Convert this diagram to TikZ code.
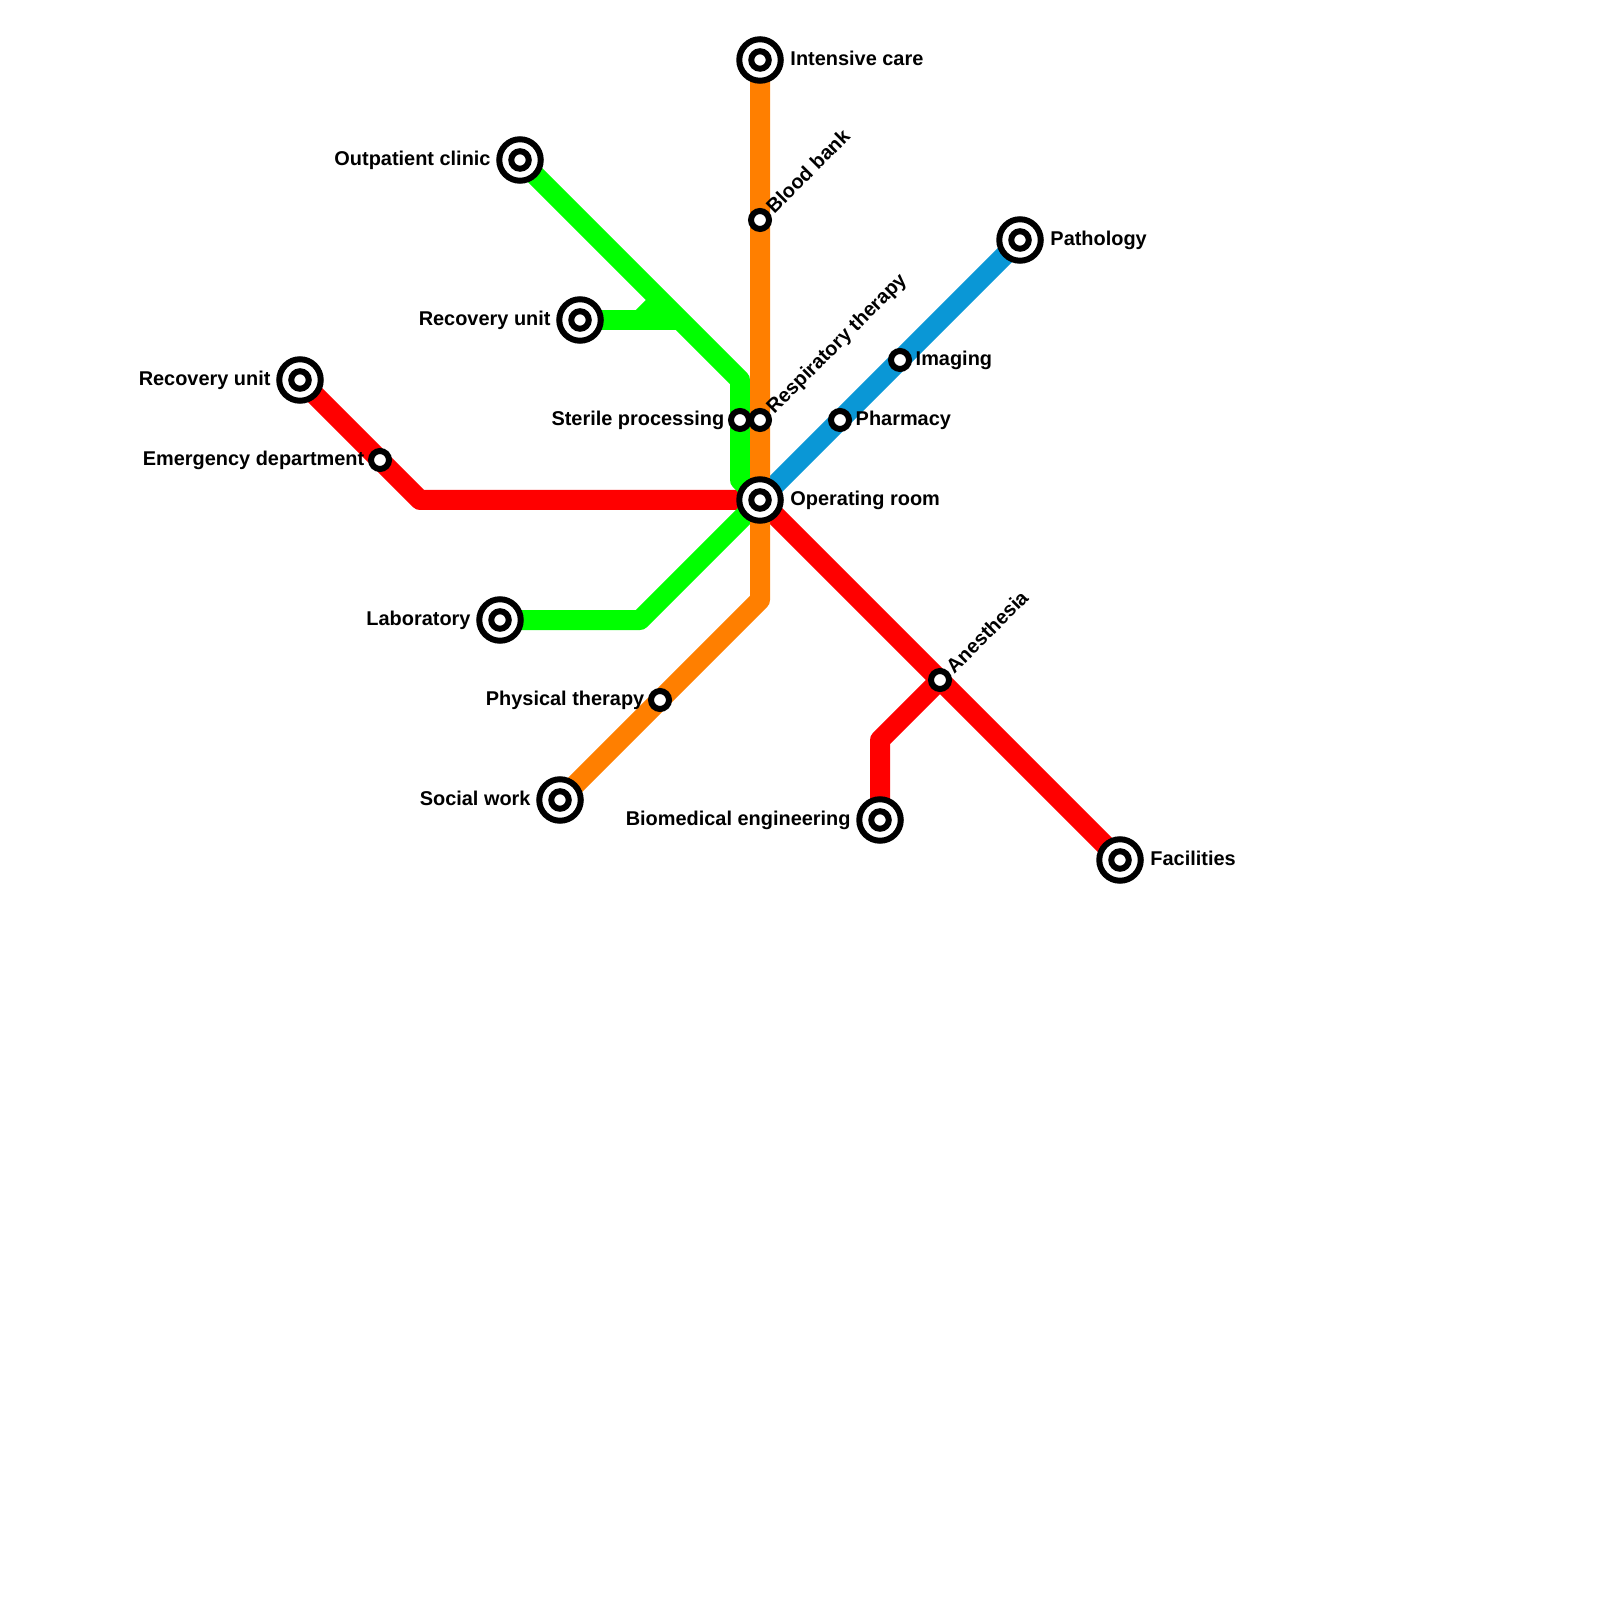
\documentclass[tikz,border=0pt]{standalone}
\usepackage{fontspec}
\setmainfont{Liberation Sans}
\usetikzlibrary{positioning,backgrounds}
\definecolor{linered}{RGB}{255,0,0}
\definecolor{linegreen}{RGB}{0,255,0}
\definecolor{lineorange}{RGB}{255,127,0}
\definecolor{lineblue}{RGB}{10,151,214}

\begin{document}
\begin{tikzpicture}[x=1cm,y=-1cm,font=\fontsize{5.67}{6.8}\selectfont\bfseries]
    \tikzset{
        terminal/.style={
            circle,draw,line width=0.06cm,fill=white,inner sep=0pt,outer sep=0pt,
            minimum size=0.415cm,
            path picture={\draw[line width=0.06cm] (path picture bounding box.center) circle (0.0875);}
        },
        halt/.style={
            circle,draw,line width=0.06cm,fill=white,inner sep=0pt,outer sep=0pt,
            minimum size=0.18cm
        },
        tag/.style={inner sep=0pt,text height=0.15cm,text depth=0.04cm},
        slanted/.style={tag,rotate=45,anchor=west},
        track/.style={line width=0.2cm,line join=round}
    }
    \useasboundingbox (0,0) rectangle (16,16);

    \node[terminal] (operating) at (7.6,5.0) {};
    \node[terminal] (intensive) at (7.6,0.6) {};
    \node[halt] (bloodbank) at (7.6,2.2) {};
    \node[halt] (respiratory) at (7.6,4.2) {};
    \node[halt] (sterile) at (7.4,4.2) {};
    \node[halt] (pharmacy) at (8.4,4.2) {};
    \node[halt] (imaging) at (9.0,3.6) {};
    \node[terminal] (pathology) at (10.2,2.4) {};
    \node[terminal] (outpatient) at (5.2,1.6) {};
    \node[terminal] (recoverygreen) at (5.8,3.2) {};
    \node[terminal] (recoveryred) at (3.0,3.8) {};
    \node[halt] (emergency) at (3.8,4.6) {};
    \node[terminal] (laboratory) at (5.0,6.2) {};
    \node[halt] (physical) at (6.6,7.0) {};
    \node[terminal] (socialwork) at (5.6,8.0) {};
    \node[halt] (anesthesia) at (9.4,6.8) {};
    \node[terminal] (biomedical) at (8.8,8.2) {};
    \node[terminal] (facilities) at (11.2,8.6) {};

    \coordinate (redbend) at (4.2,5.0);
    \coordinate (biobend) at (8.8,7.4);
    \coordinate (greentop) at (7.4,3.8);
    \coordinate (greenlow) at (7.4,4.8);
    \coordinate (labbend) at (6.4,6.2);
    \coordinate (orangebend) at (7.6,6.0);
    \coordinate (branchfoot) at (6.4,3.2);
    \coordinate (branchjoin) at (6.6,3.0);
    \coordinate (branchend) at (6.8,3.2);

    \node[tag,right=0.09cm of operating] (operatinglabel) {Operating room};
    \node[tag,right=0.09cm of intensive] (intensivelabel) {Intensive care};
    \node[tag,right=0.09cm of pathology] (pathologylabel) {Pathology};
    \node[tag,right=0.09cm of facilities] (facilitieslabel) {Facilities};
    \node[tag,right=0.06cm of imaging] (imaginglabel) {Imaging};
    \node[tag,right=0.06cm of pharmacy] (pharmacylabel) {Pharmacy};
    \node[tag,left=0.08cm of outpatient] (outpatientlabel) {Outpatient clinic};
    \node[tag,left=0.08cm of recoverygreen] (recoverygreenlabel) {Recovery unit};
    \node[tag,left=0.08cm of recoveryred] (recoveryredlabel) {Recovery unit};
    \node[tag,left=0.08cm of laboratory] (laboratorylabel) {Laboratory};
    \node[tag,left=0.08cm of socialwork] (socialworklabel) {Social work};
    \node[tag,left=0.08cm of biomedical] (biomedicallabel) {Biomedical engineering};
    \node[tag,left=0.06cm of emergency] (emergencylabel) {Emergency department};
    \node[tag,left=0.06cm of sterile] (sterilelabel) {Sterile processing};
    \node[tag,left=0.06cm of physical] (physicallabel) {Physical therapy};
    \node[slanted] (bloodbanklabel) at ([shift={(0.1,-0.09)}]bloodbank.center) {Blood bank};
    \node[slanted] (respiratorylabel) at ([shift={(0.1,-0.09)}]respiratory.center) {Respiratory therapy};
    \node[slanted] (anesthesialabel) at ([shift={(0.1,-0.09)}]anesthesia.center) {Anesthesia};

    \begin{scope}[on background layer]
        \draw[track,linered] (recoveryred.center) -- (redbend) -- (operating.center) -- (facilities.center);
        \draw[track,linered] (anesthesia.center) -- (biobend) -- (biomedical.center);
        \draw[track,linegreen] (outpatient.center) -- (greentop) -- (greenlow) -- (operating.center) -- (labbend) -- (laboratory.center);
        \draw[track,linegreen] (recoverygreen.center) -- (branchend);
        \draw[track,linegreen] (branchfoot) -- (branchjoin);
        \draw[track,lineblue] (operating.center) -- (pathology.center);
        \draw[track,lineorange] (intensive.center) -- (orangebend) -- (socialwork.center);
    \end{scope}
\end{tikzpicture}
\end{document}
